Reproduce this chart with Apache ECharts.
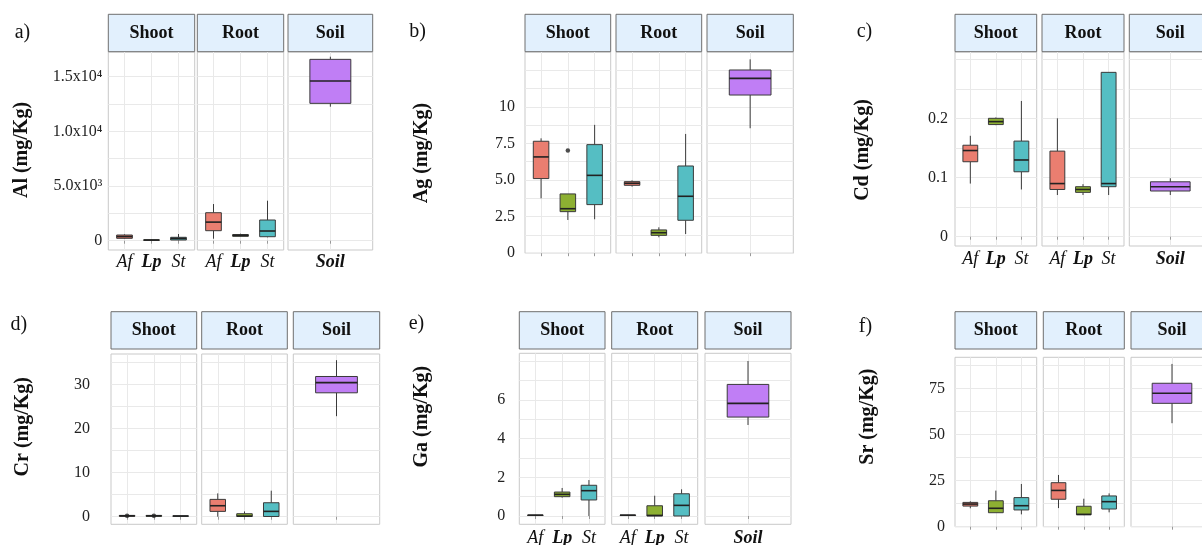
<!DOCTYPE html>
<html><head><meta charset="utf-8">
<script src="https://cdn.jsdelivr.net/npm/echarts@6/dist/echarts.min.js"></script>
<style>html,body{margin:0;padding:0;background:#fff}#c{width:1202px;height:545px}</style>
</head><body><div id="c"></div>
<script>
// ---------- DATA (min, Q1, median, Q3, max) ----------
const facets = ['Shoot', 'Root', 'Soil'];
const groups = ['Af', 'Lp', 'St'];
const soilGroup = ['Soil'];
const letters = ['a)', 'b)', 'c)', 'd)', 'e)', 'f)'];
const yTitles = ['Al (mg/Kg)', 'Ag (mg/Kg)', 'Cd (mg/Kg)', 'Cr (mg/Kg)', 'Ga (mg/Kg)', 'Sr (mg/Kg)'];

const Al_Shoot = [[180, 220, 380, 520, 580], [20, 40, 60, 80, 100], [40, 64, 200, 311, 613]];
const Al_Root  = [[183, 915, 1700, 2560, 3354], [366, 400, 494, 560, 640], [311, 366, 887, 1893, 3658]];
const Al_Soil  = [[12256, 12561, 14604, 16585, 16829]];
const Al_Out   = [];

const Ag_Shoot = [[3.75, 5.10, 6.58, 7.65, 7.85], [2.27, 2.84, 3.04, 4.05, 4.05], [2.32, 3.32, 5.32, 7.42, 8.77]];
const Ag_Root  = [[4.55, 4.64, 4.78, 4.89, 4.98], [1.09, 1.22, 1.40, 1.59, 1.77], [1.31, 2.25, 3.89, 5.96, 8.15]];
const Ag_Soil  = [[8.54, 10.81, 11.95, 12.52, 13.25]];
const Ag_Out   = [[0, 2, 7.01]];   // [facet, group, value]

const Cd_Shoot = [[0.090, 0.127, 0.146, 0.155, 0.171], [0.189, 0.190, 0.195, 0.2006, 0.202], [0.080, 0.110, 0.130, 0.162, 0.230]];
const Cd_Root  = [[0.0706, 0.080, 0.090, 0.145, 0.2006], [0.0706, 0.0751, 0.080, 0.0847, 0.089], [0.0706, 0.0847, 0.090, 0.2785, 0.2785]];
const Cd_Soil  = [[0.0706, 0.0774, 0.0847, 0.093, 0.099]];
const Cd_Out   = [];

const Cr_Shoot = [[0.05, 0.1, 0.2, 0.3, 0.35], [0.05, 0.1, 0.2, 0.3, 0.35], [0.05, 0.1, 0.15, 0.2, 0.25]];
const Cr_Root  = [[0.0, 1.21, 2.49, 3.93, 5.29], [0.0, 0.05, 0.15, 0.68, 1.2], [0.0, 0.05, 1.21, 3.17, 5.9]];
const Cr_Soil  = [[22.8, 28.1, 30.4, 31.8, 35.5]];
const Cr_Out   = [[0, 1, 0.22], [0, 2, 0.22]];

const Ga_Shoot = [[0.02, 0.03, 0.04, 0.05, 0.06], [0.95, 1.0, 1.12, 1.24, 1.45], [0.0, 0.83, 1.31, 1.59, 1.86]];
const Ga_Root  = [[0.02, 0.03, 0.04, 0.05, 0.06], [0.0, 0.0, 0.03, 0.53, 1.05], [0.0, 0.0, 0.55, 1.15, 1.38]];
const Ga_Soil  = [[4.71, 5.12, 5.83, 6.81, 8.02]];
const Ga_Out   = [];

const Sr_Shoot = [[10.0, 11.2, 12.3, 13.2, 13.8], [7.6, 7.6, 10.0, 14.1, 19.6], [6.7, 9.1, 11.4, 15.8, 23.2]];
const Sr_Root  = [[10.1, 14.9, 19.7, 23.9, 28.1], [6.3, 6.5, 6.7, 11.1, 15.2], [7.8, 9.6, 13.6, 16.7, 18.1]];
const Sr_Soil  = [[56.2, 67.0, 72.5, 77.9, 88.4]];
const Sr_Out   = [];

// ---------- TICKS ----------
const Al_ticks = [0, 5000, 10000, 15000];
const Al_tickLabels = ['0', '5.0x10³', '1.0x10⁴', '1.5x10⁴'];
const Al_gridValues = [0, 2500, 5000, 7500, 10000, 12500, 15000];
const Ag_ticks = [0, 2.5, 5, 7.5, 10];
const Ag_tickLabels = ['0', '2.5', '5.0', '7.5', '10'];
const Ag_gridValues = [0, 1.25, 2.5, 3.75, 5, 6.25, 7.5, 8.75, 10, 11.25, 12.5];
const Cd_ticks = [0, 0.1, 0.2];
const Cd_tickLabels = ['0', '0.1', '0.2'];
const Cd_gridValues = [0, 0.05, 0.1, 0.15, 0.2, 0.25, 0.3];
const Cr_ticks = [0, 10, 20, 30];
const Cr_tickLabels = ['0', '10', '20', '30'];
const Cr_gridValues = [0, 5, 10, 15, 20, 25, 30, 35];
const Ga_ticks = [0, 2, 4, 6];
const Ga_tickLabels = ['0', '2', '4', '6'];
const Ga_gridValues = [0, 1, 2, 3, 4, 5, 6, 7, 8];
const Sr_ticks = [0, 25, 50, 75];
const Sr_tickLabels = ['0', '25', '50', '75'];
const Sr_gridValues = [0, 12.5, 25, 37.5, 50, 62.5, 75, 87.5];

const boxColors = ['#EA7E70', '#8DB032', '#55BEC3', '#C07EF5'];

// ---------- assemble ----------
const panelData = [
  [Al_Shoot, Al_Root, Al_Soil, Al_Out, Al_ticks, Al_tickLabels, Al_gridValues],
  [Ag_Shoot, Ag_Root, Ag_Soil, Ag_Out, Ag_ticks, Ag_tickLabels, Ag_gridValues],
  [Cd_Shoot, Cd_Root, Cd_Soil, Cd_Out, Cd_ticks, Cd_tickLabels, Cd_gridValues],
  [Cr_Shoot, Cr_Root, Cr_Soil, Cr_Out, Cr_ticks, Cr_tickLabels, Cr_gridValues],
  [Ga_Shoot, Ga_Root, Ga_Soil, Ga_Out, Ga_ticks, Ga_tickLabels, Ga_gridValues],
  [Sr_Shoot, Sr_Root, Sr_Soil, Sr_Out, Sr_ticks, Sr_tickLabels, Sr_gridValues]
];

// layout (pixels)
const layouts = [
  {stripY: [14.3, 51.7], plotY: [52, 250], fx: [[108.3, 194.7], [197.3, 283.7], [288, 372.7]], yMin: -850, yMax: 17258, lm: 6, showX: true, xm: 3, title: [22, 150], letter: [22.5, 33]},
  {stripY: [14.3, 51.7], plotY: [52, 253.2], fx: [[525, 610.7], [616, 701.7], [707, 793.3]], yMin: 0, yMax: 13.75, lm: 10, showX: false, xm: 3, title: [421.7, 153], letter: [417.5, 32]},
  {stripY: [14.3, 51.7], plotY: [52, 246], fx: [[955, 1036.7], [1042, 1124], [1129.3, 1211.3]], yMin: -0.0158, yMax: 0.313, lm: 7, showX: true, xm: 4, title: [863, 150], letter: [864.5, 32]},
  {stripY: [311.7, 349], plotY: [354, 524.3], fx: [[111, 196.7], [201.7, 287.3], [293.3, 379.7]], yMin: -1.72, yMax: 36.9, lm: 21, showX: false, xm: 3, title: [22.7, 426.7], letter: [18.8, 325]},
  {stripY: [311.7, 349], plotY: [353.3, 524.3], fx: [[519.3, 605], [611.7, 697.7], [705, 791]], yMin: -0.43, yMax: 8.42, lm: 14, showX: true, xm: 5, title: [421.7, 416.7], letter: [416.5, 323.3]},
  {stripY: [311.7, 349], plotY: [357.3, 526.7], fx: [[955, 1036.7], [1043.3, 1124.3], [1131, 1213]], yMin: 0, yMax: 92.0, lm: 10, showX: false, xm: 3, title: [868.3, 416.7], letter: [865.5, 326.7]}
];

const SERIF = '"Liberation Serif", "Times New Roman", serif';
const grids = [], xAxes = [], yAxes = [], series = [], graphics = [];

function makeRender(facetIdx) {
  return function (params, api) {
    const x = api.value(0);
    const lo = api.value(1), q1 = api.value(2), med = api.value(3), q3 = api.value(4), hi = api.value(5);
    const unit = api.size([1, 0])[0];
    const half = unit * 0.58 / 2;
    const pLo = api.coord([x, lo]), pQ1 = api.coord([x, q1]), pMed = api.coord([x, med]);
    const pQ3 = api.coord([x, q3]), pHi = api.coord([x, hi]);
    const color = facetIdx === 2 ? boxColors[3] : boxColors[x - 1];
    return {
      type: 'group',
      children: [
        {type: 'line', shape: {x1: pLo[0], y1: pLo[1], x2: pQ1[0], y2: pQ1[1]}, style: {stroke: '#3a3a3a', lineWidth: 1}},
        {type: 'line', shape: {x1: pQ3[0], y1: pQ3[1], x2: pHi[0], y2: pHi[1]}, style: {stroke: '#3a3a3a', lineWidth: 1}},
        {type: 'rect', shape: {x: pQ1[0] - half, y: pQ3[1], width: 2 * half, height: Math.max(pQ1[1] - pQ3[1], 0.5)},
          style: {fill: color, stroke: '#3a3a3a', lineWidth: 1}},
        {type: 'line', shape: {x1: pMed[0] - half, y1: pMed[1], x2: pMed[0] + half, y2: pMed[1]}, style: {stroke: '#222', lineWidth: 1.6}}
      ]
    };
  };
}

layouts.forEach(function (L, p) {
  const pd = panelData[p];
  const ticks = pd[4], tickLabels = pd[5], gridValues = pd[6];
  facets.forEach(function (fname, f) {
    const gi = grids.length;
    const x0 = L.fx[f][0], x1 = L.fx[f][1];
    const cats = f === 2 ? soilGroup : groups;
    const n = cats.length;
    grids.push({left: x0, top: L.plotY[0], width: x1 - x0, height: L.plotY[1] - L.plotY[0],
      show: true, borderColor: '#c9c9c9', borderWidth: 1, backgroundColor: 'transparent',
      containLabel: false, outerBoundsMode: 'none'});
    const catVals = cats.map(function (c, i) { return i + 1; });
    xAxes.push({type: 'value', gridIndex: gi, min: 0.4, max: n + 0.6,
      axisLine: {show: false},
      axisTick: {show: true, length: 3, lineStyle: {color: '#999'}, customValues: catVals},
      splitLine: {show: true, lineStyle: {color: '#e9e9e9', width: 1}},
      axisLabel: {show: L.showX, margin: L.xm, customValues: catVals, color: '#111',
        fontFamily: SERIF, fontSize: 18,
        formatter: function (v) {
          const name = cats[Math.round(v) - 1];
          if (name === 'Lp' || name === 'Soil') return '{bi|' + name + '}';
          return '{it|' + name + '}';
        },
        rich: {it: {fontStyle: 'italic', fontFamily: SERIF, fontSize: 18, color: '#111'},
               bi: {fontStyle: 'italic', fontWeight: 'bold', fontFamily: SERIF, fontSize: 18, color: '#111'}}}
    });
    yAxes.push({type: 'value', gridIndex: gi, min: L.yMin, max: L.yMax,
      axisLine: {show: false},
      axisTick: {show: false, customValues: gridValues},
      splitLine: {show: true, lineStyle: {color: '#e9e9e9', width: 1}},
      axisLabel: {show: f === 0, margin: L.lm, customValues: ticks, color: '#222',
        fontFamily: SERIF, fontSize: 16,
        formatter: function (v) {
          for (let i = 0; i < ticks.length; i++) if (Math.abs(ticks[i] - v) < 1e-9) return tickLabels[i];
          return '';
        }}
    });
    const boxes = pd[f].map(function (b, i) { return [i + 1].concat(b); });
    series.push({type: 'custom', xAxisIndex: gi, yAxisIndex: gi, data: boxes,
      encode: {x: 0, y: [1, 2, 3, 4, 5]}, renderItem: makeRender(f), silent: true});
    const outs = pd[3].filter(function (o) { return o[0] === f; }).map(function (o) { return [o[1], o[2]]; });
    if (outs.length) {
      series.push({type: 'scatter', xAxisIndex: gi, yAxisIndex: gi, data: outs, symbolSize: 4.5,
        itemStyle: {color: '#222'}, silent: true, z: 5});
    }
    // strip
    graphics.push({type: 'rect', shape: {x: x0, y: L.stripY[0], width: x1 - x0, height: L.stripY[1] - L.stripY[0]},
      style: {fill: '#E2F0FD', stroke: '#6e6e6e', lineWidth: 1},
      textContent: {style: {text: fname, font: 'bold 18px ' + SERIF, fill: '#111'}},
      textConfig: {position: 'inside'}});
  });
  graphics.push({type: 'text', x: L.title[0], y: L.title[1], rotation: Math.PI / 2,
    style: {text: yTitles[p], font: 'bold 20px ' + SERIF, fill: '#111',
      align: 'center', verticalAlign: 'middle', textAlign: 'center', textVerticalAlign: 'middle'}});
  graphics.push({type: 'text', x: L.letter[0], y: L.letter[1],
    style: {text: letters[p], font: '20px ' + SERIF, fill: '#111',
      align: 'center', verticalAlign: 'middle', textAlign: 'center', textVerticalAlign: 'middle'}});
});

const chart = echarts.init(document.getElementById('c'), null, {renderer: 'canvas'});
chart.setOption({
  animation: false,
  backgroundColor: '#fff',
  grid: grids, xAxis: xAxes, yAxis: yAxes, series: series,
  graphic: {elements: graphics}
});
</script></body></html>
